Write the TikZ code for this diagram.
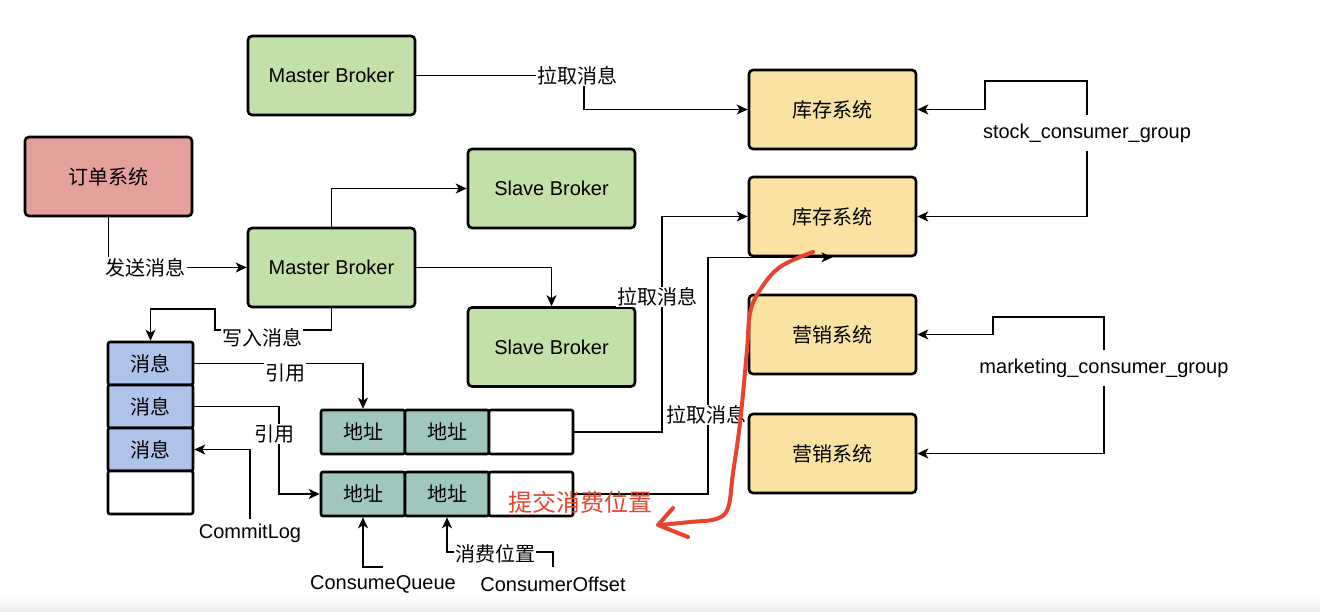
\documentclass[tikz,border=0pt]{standalone}
\usepackage{fontspec}
\setmainfont{Liberation Sans}
\newfontfamily\cjk{Noto Sans CJK SC}
\usetikzlibrary{arrows.meta}
\definecolor{cgreen}{HTML}{C4E0A9}
\definecolor{cyellow}{HTML}{FAE3A2}
\definecolor{cred}{HTML}{E5A09C}
\definecolor{cblue}{HTML}{AFC3EA}
\definecolor{cteal}{HTML}{A0C7BE}
\definecolor{hand}{HTML}{E8432E}
\tikzset{
  box/.style={draw=black, line width=2.6pt, rounded corners=4pt, minimum width=167pt, minimum height=79pt, inner sep=0pt, font=\fontsize{20}{24}\selectfont},
  cbox/.style={box, font=\cjk\fontsize{20}{24}\selectfont},
  cell/.style={draw=black, line width=2.6pt, rounded corners=2pt, minimum width=85pt, minimum height=43pt, inner sep=0pt, font=\cjk\fontsize{20}{24}\selectfont},
  arr/.style={draw=black, line width=1.3pt, -{Stealth[length=11pt,width=10pt,inset=3pt]}},
  conn/.style={draw=black, line width=1.3pt},
  lbl/.style={fill=white, inner sep=1pt, font=\cjk\fontsize{20}{24}\selectfont},
  elbl/.style={fill=white, inner sep=1pt, font=\fontsize{20}{24}\selectfont},
}
\begin{document}
\begin{tikzpicture}[x=1pt,y=-1pt]
\useasboundingbox (0,0) rectangle (1320,612);
\fill[white] (0,0) rectangle (1320,612);
\shade[top color=white, bottom color=black!7] (0,596) rectangle (1320,612);

% boxes
\node[box, fill=cgreen] (mb1) at (331.5,75.5) {Master Broker};
\node[cbox, fill=cred] (dd) at (108.5,176.5) {订单系统};
\node[box, fill=cgreen] (sb1) at (551.5,188.5) {Slave Broker};
\node[box, fill=cgreen] (mb2) at (331.5,267.5) {Master Broker};
\node[box, fill=cgreen] (sb2) at (551.5,347) {Slave Broker};
\node[cbox, fill=cyellow] (kc1) at (832.5,109.5) {库存系统};
\node[cbox, fill=cyellow] (kc2) at (832.5,216.5) {库存系统};
\node[cbox, fill=cyellow] (yx1) at (832.5,334.5) {营销系统};
\node[cbox, fill=cyellow] (yx2) at (832.5,453.5) {营销系统};

% commit log
\node[cell, fill=cblue] (cl1) at (150.5,363.5) {消息};
\node[cell, fill=cblue] (cl2) at (150.5,406.5) {消息};
\node[cell, fill=cblue] (cl3) at (150.5,449.5) {消息};
\node[cell, fill=white] (cl4) at (150.5,492.5) {};

% consume queues
\node[cell, fill=cteal, minimum width=84pt, minimum height=44pt] (cq1a) at (363,432) {地址};
\node[cell, fill=cteal, minimum width=84pt, minimum height=44pt] (cq1b) at (447,432) {地址};
\node[cell, fill=white, minimum width=84pt, minimum height=44pt] (cq1c) at (531,432) {};
\node[cell, fill=cteal, minimum width=84pt, minimum height=44pt] (cq2a) at (363,494) {地址};
\node[cell, fill=cteal, minimum width=84pt, minimum height=44pt] (cq2b) at (447,494) {地址};
\node[cell, fill=white, minimum width=84pt, minimum height=44pt] (cq2c) at (531,494) {};

% coordinates
\coordinate (t1) at (584,90);
\coordinate (t2) at (662,300);
\coordinate (t3) at (708,400);
\coordinate (w2) at (215,330);
\coordinate (w3) at (215,309);
\coordinate (r2) at (279,450);
\coordinate (q1) at (383,567);
\coordinate (o1) at (553,567);
\coordinate (o2) at (553,552);
\coordinate (s2) at (985,81);
\coordinate (m2) at (993,317);

% text labels (standalone)
\node[elbl, inner ysep=8pt] (sg) at (1087,133) {stock\_consumer\_group};
\node[elbl, inner ysep=8pt] (mg) at (1104,368) {marketing\_consumer\_group};
\node[elbl, inner ysep=4pt] (clab) at (250,533) {CommitLog};
\node[elbl] (cqlab) at (383,584) {ConsumeQueue};
\node[elbl] (colab) at (553,584) {ConsumerOffset};

% connectors
\draw[arr] (dd.south) |- node[lbl, pos=0.634] (l0) {发送消息} (mb2.west);
\draw[arr] (mb2.north) |- (sb1.west);
\draw[arr] (mb2.east) -| (sb2.north);
\draw[arr] (mb1.east) -| (t1) |- (kc1.west);
\draw[arr] (cq1c.east) -| (t2) |- (kc2.west);
\draw[arr] (cq2c.east) -| (t3) |- (kc2.south);
\draw[arr] (mb2.south) |- (w2) -- (w3) -| (cl1.north);
\draw[arr] (cl1.east) -| (cq1a.north);
\draw[arr] (cl2.east) -| (r2) |- (cq2a.west);
\draw[arr] (clab.north) |- (cl3.east);
\draw[arr] (q1) -| (cq2a.south);
\draw[arr] (o1) -- (o2) -| (cq2b.south);
\draw[arr] (sg.north) |- (s2) |- (kc1.east);
\draw[arr] (sg.south) |- (kc2.east);
\draw[arr] (mg.north) |- (m2) |- (yx1.east);
\draw[arr] (mg.south) |- (yx2.east);

% labels on connectors
\node[lbl] (l1) at (577,75.5) {拉取消息};
\node[lbl] (l2) at (657,297) {拉取消息};
\node[lbl] (l3) at (706,415) {拉取消息};
\node[lbl] (l4) at (262,338) {写入消息};
\node[lbl] (l5) at (285,373) {引用};
\node[lbl] (l6) at (274,434) {引用};
\node[lbl] (l7) at (495,554) {消费位置};

% handwritten annotation
\node[inner sep=0pt, text=hand, font=\cjk\fontsize{24}{28}\selectfont] (rt) at (580,502) {提交消费位置};
\draw[hand, line width=4pt, line cap=round, line join=round] plot[smooth, tension=0.6] coordinates {(813,252) (780,267) (760,290) (750,313) (747,350) (740,423) (733,473) (728,508) (716,519) (690,522) (660,525)};
\draw[hand, line width=4pt, line cap=round, line join=round] (673,508) -- (658,525) -- (688,537);
\end{tikzpicture}
\end{document}
